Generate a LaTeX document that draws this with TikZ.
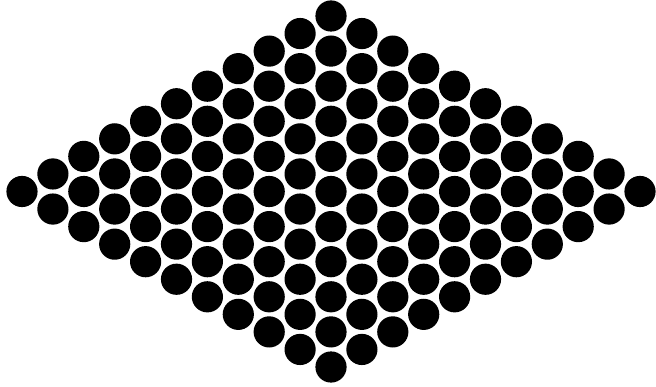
\documentclass[tikz,border=0pt]{standalone}
\begin{document}
\begin{tikzpicture}[x=1pt,y=-1pt,dot/.style={fill=black}]
\useasboundingbox (0,0) rectangle (656,387);
\foreach \i in {0,...,10}{
  \foreach \j in {0,...,10}{
    \fill[dot] ({331+(\i-\j)*30.9},{16+(\i+\j)*17.55}) circle[radius=15.6];
  }
}
\end{tikzpicture}
\end{document}
